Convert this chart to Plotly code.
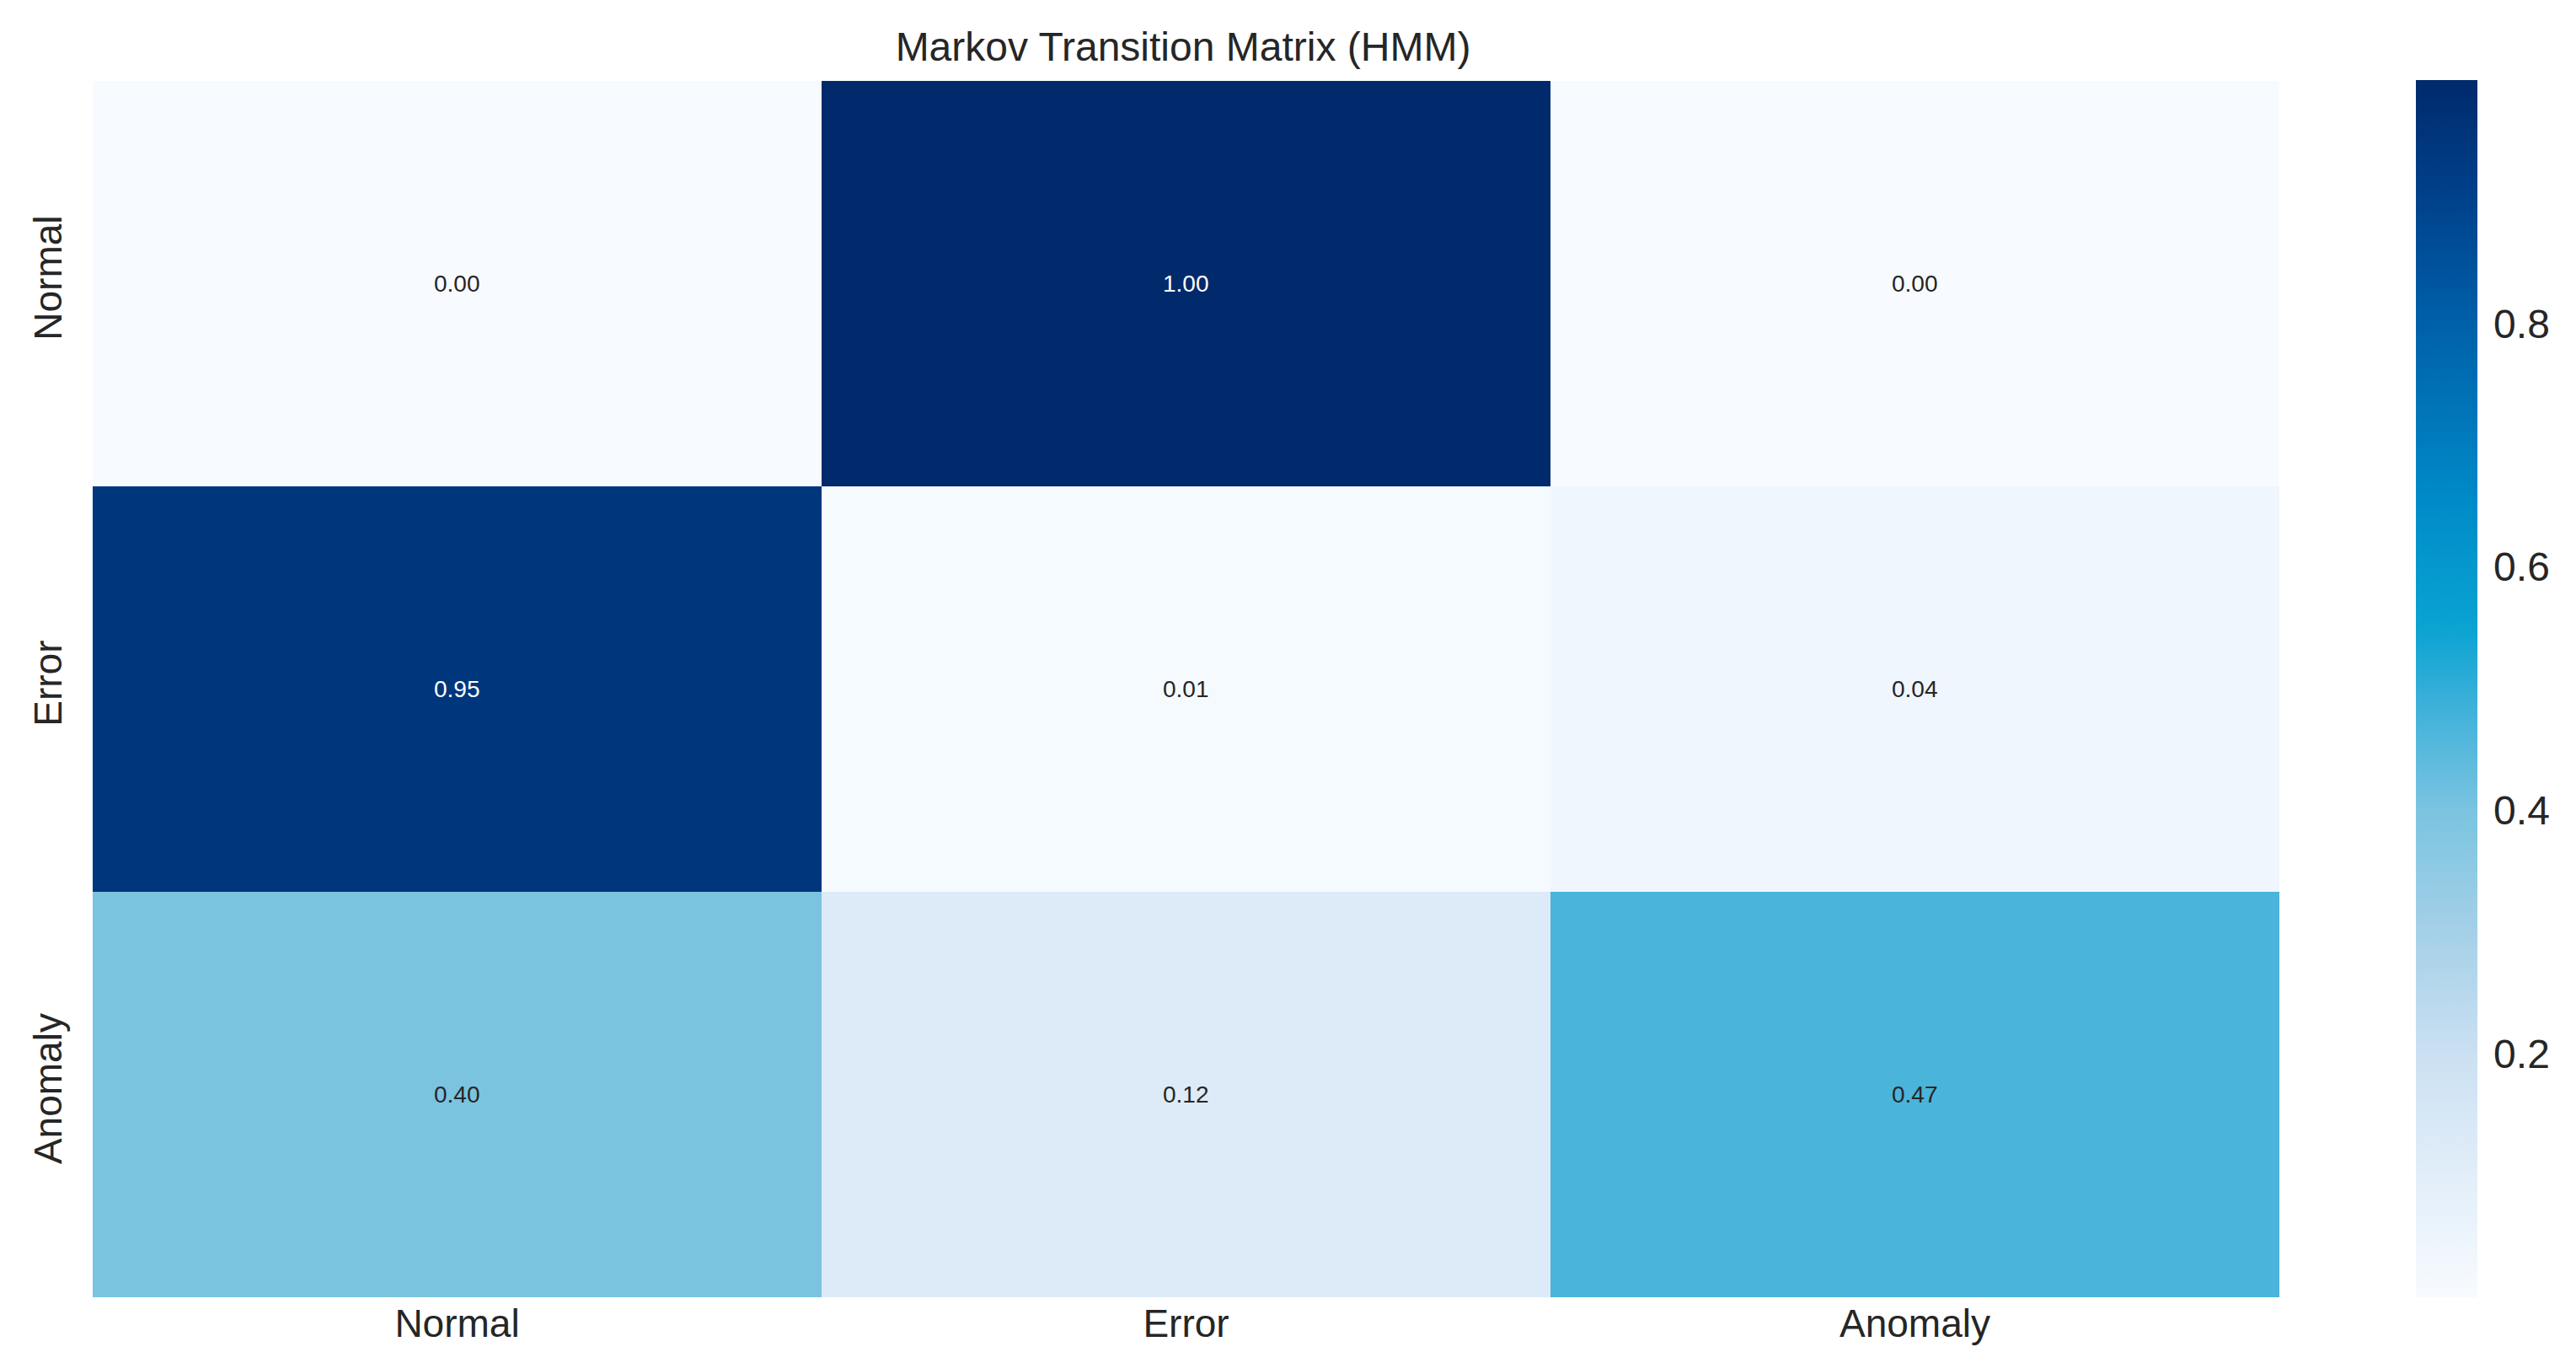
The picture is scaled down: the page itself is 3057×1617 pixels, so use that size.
import plotly.graph_objects as go

states = ["Normal", "Error", "Anomaly"]
# rows = from-state, columns = to-state
row_normal = [0.00, 1.00, 0.00]
row_error = [0.95, 0.01, 0.04]
row_anomaly = [0.40, 0.12, 0.47]
colorbar_ticks = [0.2, 0.4, 0.6, 0.8]
title_text = "Markov Transition Matrix (HMM)"

z = [row_normal, row_error, row_anomaly]

colorscale = [
    [0.00, "rgb(247,251,255)"],
    [0.10, "rgb(226,238,249)"],
    [0.20, "rgb(203,224,242)"],
    [0.30, "rgb(165,208,232)"],
    [0.40, "rgb(122,196,224)"],
    [0.47, "rgb(74,180,219)"],
    [0.55, "rgb(10,163,210)"],
    [0.65, "rgb(0,140,200)"],
    [0.80, "rgb(0,96,170)"],
    [0.90, "rgb(0,66,140)"],
    [1.00, "rgb(0,42,108)"],
]

W, H = 3057, 1617
fig = go.Figure()
fig.add_trace(go.Heatmap(
    z=z, x=states, y=states,
    colorscale=colorscale, zmin=0.0, zmax=1.0,
    xgap=0, ygap=0,
    hoverinfo="skip",
    colorbar=dict(
        x=2859 / W, xanchor="left", xref="paper",
        y=1 - 1531 / H, yanchor="bottom", yref="paper",
        len=(1531 - 87) / H, lenmode="fraction",
        thickness=73, thicknessmode="pixels",
        xpad=0, ypad=0,
        outlinewidth=0, ticks="outside", ticklen=10, tickcolor="rgba(0,0,0,0)",
        tickvals=colorbar_ticks, ticktext=[f"{v:.1f}" for v in colorbar_ticks],
        tickfont=dict(family="Liberation Sans, Arial", size=48, color="#262626"),
    ),
))

for i, row in enumerate(z):
    for j, v in enumerate(row):
        fig.add_annotation(
            x=states[j], y=states[i], xref="x", yref="y",
            text=f"{v:.2f}", showarrow=False,
            font=dict(family="Liberation Sans, Arial", size=28,
                      color="white" if v > 0.5 else "#262626"),
        )

fig.update_layout(
    width=W, height=H,
    margin=dict(l=0, r=0, t=0, b=0),
    paper_bgcolor="white", plot_bgcolor="white",
    title=dict(text=title_text, x=1396 / W, xanchor="center", y=1 - 47 / H, yanchor="middle",
               font=dict(family="Liberation Sans, Arial", size=48, color="#262626")),
    xaxis=dict(domain=[102 / W, 2697 / W], showgrid=False, zeroline=False, ticks="",
               tickfont=dict(family="Liberation Sans, Arial", size=46, color="#262626"),
               automargin=False, showline=False),
    yaxis=dict(domain=[1 - 1531 / H, 1 - 88 / H], showgrid=False, zeroline=False, ticks="",
               autorange="reversed", tickangle=-90, ticklabelstandoff=27,
               tickfont=dict(family="Liberation Sans, Arial", size=46, color="#262626"),
               automargin=False, showline=False),
)

fig.write_html("out.html")
